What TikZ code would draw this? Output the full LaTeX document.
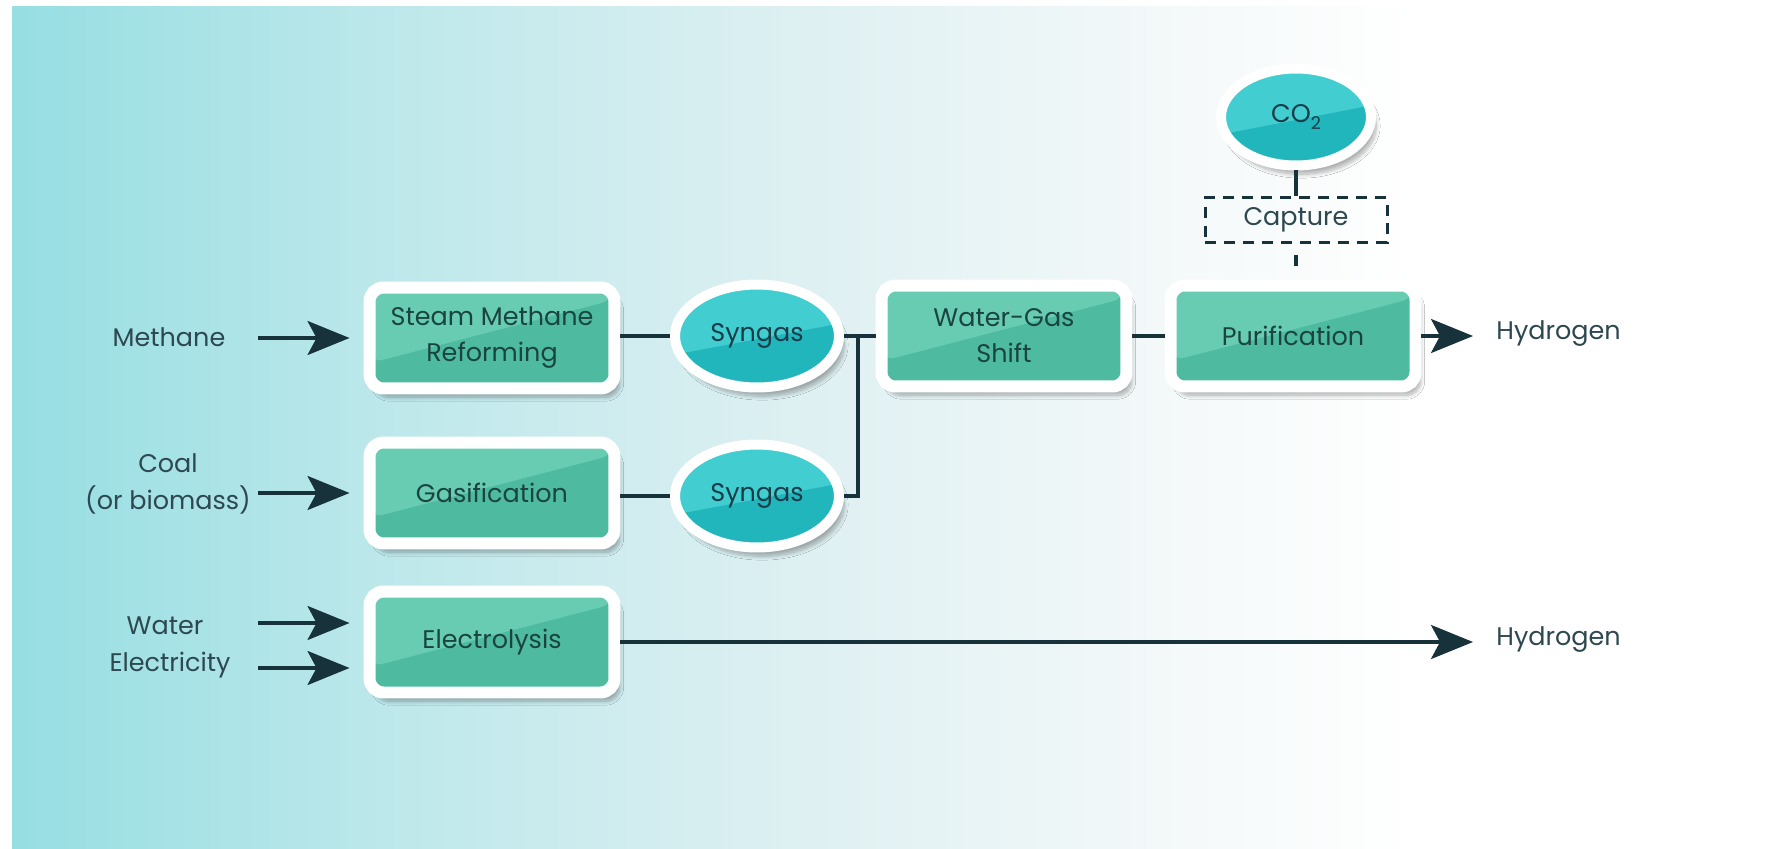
\documentclass[tikz,border=0pt]{standalone}
\usepackage{fontspec}
\setmainfont{Poppins}
\usetikzlibrary{arrows.meta,shapes.geometric,shadows.blur,calc}
\definecolor{arrowc}{RGB}{23,50,58}
\definecolor{labelc}{RGB}{45,72,80}
\definecolor{boxtext}{RGB}{26,68,64}
\definecolor{boxfill}{RGB}{78,187,160}
\definecolor{boxlight}{RGB}{104,204,179}
\definecolor{ellfill}{RGB}{32,182,188}
\definecolor{elllight}{RGB}{66,205,209}
\definecolor{elltext}{RGB}{24,60,72}
\pgfdeclarehorizontalshading{bgshade}{100bp}{rgb(0bp)=(0.588,0.871,0.886); rgb(25bp)=(0.588,0.871,0.886); rgb(36bp)=(0.745,0.910,0.922); rgb(47.5bp)=(0.871,0.941,0.949); rgb(57.5bp)=(0.953,0.973,0.976); rgb(65bp)=(1,1,1); rgb(100bp)=(1,1,1)}
\tikzset{
  glossbox/.style={path picture={\fill[boxlight] (path picture bounding box.north west) -- ($(path picture bounding box.north west)!0.75!(path picture bounding box.south west)$) -- ($(path picture bounding box.north east)!0.12!(path picture bounding box.south east)$) -- (path picture bounding box.north east) -- cycle;}},
  glossell/.style={path picture={\fill[elllight] (path picture bounding box.north west) -- ($(path picture bounding box.north west)!0.68!(path picture bounding box.south west)$) -- ($(path picture bounding box.north east)!0.38!(path picture bounding box.south east)$) -- (path picture bounding box.north east) -- cycle;}},
  softshadow/.style={blur shadow={shadow xshift=3pt, shadow yshift=-5pt, shadow opacity=30, shadow blur steps=10}},
  procbox/.style={rectangle, rounded corners=0.28cm, draw=white, line width=0.24cm, fill=boxfill, minimum width=4.9cm, minimum height=2.02cm, inner sep=0pt, align=center, text=boxtext, font=\fontsize{14.5}{20.5}\selectfont, softshadow, glossbox},
  gasell/.style={ellipse, draw=white, line width=0.2cm, fill=ellfill, inner sep=0pt, minimum width=3.28cm, minimum height=2.06cm, text=elltext, font=\fontsize{14.5}{18}\selectfont, softshadow, glossell},
  lbl/.style={text=labelc, align=center, inner sep=0pt, font=\fontsize{14.5}{21}\selectfont},
  conn/.style={draw=arrowc, line width=0.065cm},
  arr/.style={draw=arrowc, line width=0.065cm, -{Stealth[length=0.84cm, width=0.68cm, inset=0.18cm]}},
  capbox/.style={rectangle, draw=arrowc, line width=0.06cm, dash pattern=on 0.22cm off 0.16cm, minimum width=3.64cm, minimum height=0.9cm, inner sep=0pt, text=labelc, font=\fontsize{14.5}{18}\selectfont}
}
\begin{document}
\begin{tikzpicture}[x=0.02cm,y=-0.02cm]
\useasboundingbox (0,0) rectangle (1770,848);
\shade[shading=bgshade] (12,7) rectangle (1770,848);

% labels
\node[lbl] (meth) at (169,337) {Methane};
\node[lbl] (coal) at (168,484) {Coal\\(or biomass)};
\node[lbl] (water) at (165,626) {Water};
\node[lbl] (elec) at (170,665) {Electricity};
\node[lbl, anchor=west] (hyd1) at (1496,334) {Hydrogen};
\node[lbl, anchor=west] (hyd2) at (1496,640) {Hydrogen};

% arrow start / end coordinates
\coordinate (a1) at (258,338);
\coordinate (a2) at (258,493);
\coordinate (a3) at (258,623);
\coordinate (a4) at (258,668);
\coordinate (h1tip) at (1473,336);
\coordinate (h2tip) at (1473,642);
\coordinate (jn) at (858,336);

% process boxes
\node[procbox] (smr) at (492,338) {Steam Methane\\Reforming};
\node[procbox] (gas) at (492,493) {Gasification};
\node[procbox] (ely) at (492,642) {Electrolysis};
\node[procbox] (wgs) at (1004,336) {Water-Gas\\Shift};
\node[procbox] (pur) at (1293,336) {Purification};

% ellipses
\node[gasell] (sg1) at (757,336) {Syngas};
\node[gasell] (sg2) at (757,496) {Syngas};
\node[gasell, minimum width=3.0cm, minimum height=1.94cm] (co2) at (1296,117) {CO\raisebox{-0.45ex}{\fontsize{10}{10}\selectfont 2}};

% capture
\node[capbox] (cap) at (1296,220) {Capture};

% connectors
\draw[arr, shorten >=0.28cm] (a1) -- (a1 -| smr.west);
\draw[arr, shorten >=0.28cm] (a2) -- (a2 -| gas.west);
\draw[arr, shorten >=0.28cm] (a3) -- (a3 -| ely.west);
\draw[arr, shorten >=0.28cm] (a4) -- (a4 -| ely.west);

\draw[conn] (smr.east |- sg1.west) -- (sg1.west);
\draw[conn] (gas.east |- sg2.west) -- (sg2.west);
\draw[conn] (sg1.east) -- (wgs.west);
\draw[conn] (sg2.east) -| (jn);
\draw[conn] (wgs.east) -- (pur.west);
\draw[arr] (pur.east) -- (pur.east -| h1tip);
\draw[arr] (ely.east) -- (ely.east -| h2tip);
\draw[conn] (co2.south) -- (co2.south |- cap.north);
\draw[conn, shorten <=0.23cm, shorten >=0.28cm] (cap.south) -- (cap.south |- pur.north);
\end{tikzpicture}
\end{document}
